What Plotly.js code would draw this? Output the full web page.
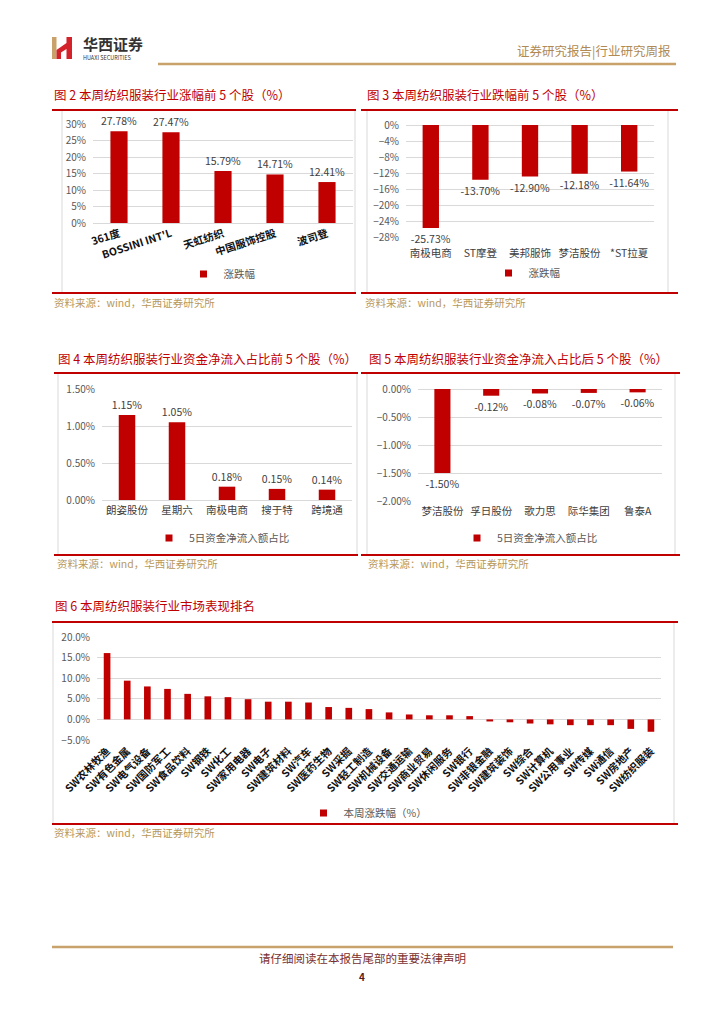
<!DOCTYPE html>
<html>
<head>
<meta charset="utf-8">
<script src="https://cdn.plot.ly/plotly-3.0.1.min.js"></script>
<style>
html,body{margin:0;padding:0;background:#fff;}
#page{width:724px;height:1024px;}
</style>
</head>
<body>
<div id="page"></div>
<script>
// ---------- data ----------
const c2Cats = ['361度', "BOSSINI INT'L", '天虹纺织', '中国服饰控股', '波司登'];
const c2Vals = [27.78, 27.47, 15.79, 14.71, 12.41];

const c3Cats = ['南极电商', 'ST摩登', '美邦服饰', '梦洁股份', '*ST拉夏'];
const c3Vals = [-25.73, -13.70, -12.90, -12.18, -11.64];

const c4Cats = ['朗姿股份', '星期六', '南极电商', '搜于特', '跨境通'];
const c4Vals = [1.15, 1.05, 0.18, 0.15, 0.14];

const c5Cats = ['梦洁股份', '孚日股份', '歌力思', '际华集团', '鲁泰A'];
const c5Vals = [-1.50, -0.12, -0.08, -0.07, -0.06];

const c6Cats = ['SW农林牧渔','SW有色金属','SW电气设备','SW国防军工','SW食品饮料','SW钢铁','SW化工',
  'SW家用电器','SW电子','SW建筑材料','SW汽车','SW医药生物','SW采掘','SW轻工制造','SW机械设备',
  'SW交通运输','SW商业贸易','SW休闲服务','SW银行','SW非银金融','SW建筑装饰','SW综合','SW计算机',
  'SW公用事业','SW传媒','SW通信','SW房地产','SW纺织服装'];
const c6Vals = [16.1, 9.4, 8.0, 7.4, 6.2, 5.6, 5.4, 4.9, 4.3, 4.3, 4.1, 3.0, 2.8, 2.5, 1.7,
  1.2, 1.0, 1.0, 0.8, -0.5, -0.7, -1.0, -1.2, -1.4, -1.4, -1.4, -2.3, -3.0];

const nameRise = '涨跌幅';
const nameFlow = '5日资金净流入额占比';
const nameWeek = '本周涨跌幅（%）';

// ---------- helpers ----------
const W = 724, H = 1024;
const X = x => x / W;
const Y = y => 1 - y / H;
const F = '"Noto Sans CJK SC", "Noto Sans", sans-serif';
const RED = '#C00000';
const GRID = '#D9D9D9';
const GOLD = '#B8985A';

function pct(v, d) { return v.toFixed(d) + '%'; }

function barTrace(cats, vals, xa, ya, name, showText) {
  return {
    type: 'bar', x: cats, y: vals, xaxis: xa, yaxis: ya, name: name,
    marker: {color: RED},
    text: showText ? vals.map(v => pct(v, 2)) : undefined,
    textposition: showText ? 'outside' : 'none',
    constraintext: 'none', cliponaxis: false,
    textfont: {family: F, size: 10.5, color: '#404040'},
    hoverinfo: 'skip', showlegend: false
  };
}
function legTrace(leg, name, xa, ya) {
  return {type: 'scatter', mode: 'markers', x: [null], y: [null], xaxis: xa, yaxis: ya,
    name: name, legend: leg, showlegend: true,
    marker: {symbol: 'square', size: 7, color: RED}, hoverinfo: 'skip'};
}
function yAxis(top, bottom, range, dtick, fmt, anchor) {
  return {domain: [Y(bottom), Y(top)], range: range, dtick: dtick, tick0: 0,
    tickformat: fmt, ticksuffix: '%', showgrid: true, gridcolor: GRID, gridwidth: 1,
    zeroline: true, zerolinecolor: GRID, zerolinewidth: 1, showline: false, ticks: '',
    ticklabelstandoff: 6, tickfont: {family: F, size: 10, color: '#595959'},
    anchor: anchor, fixedrange: true};
}
function xAxis(left, right, anchor, angle, font, standoff) {
  return {domain: [X(left), X(right)], type: 'category', showgrid: false, zeroline: false,
    showline: false, ticks: '', tickangle: angle, anchor: anchor,
    ticklabelstandoff: standoff || 0,
    tickfont: font, fixedrange: true, automargin: false};
}
function ann(x, y, text, size, color, align, extra) {
  return Object.assign({xref: 'paper', yref: 'paper', x: X(x), y: Y(y), text: text,
    showarrow: false, xanchor: align || 'left', yanchor: 'middle',
    font: {family: F, size: size, color: color}}, extra || {});
}
function hline(x0, x1, y, color, w) {
  return {type: 'line', xref: 'paper', yref: 'paper', x0: X(x0), x1: X(x1), y0: Y(y), y1: Y(y),
    line: {color: color, width: w}};
}
function box(x0, x1, y0, y1) {
  return {type: 'rect', xref: 'paper', yref: 'paper', x0: X(x0), x1: X(x1), y0: Y(y1), y1: Y(y0),
    line: {color: GRID, width: 1}, fillcolor: 'rgba(0,0,0,0)'};
}
function legend(cx, cy) {
  return {x: X(cx), y: Y(cy), xanchor: 'center', yanchor: 'middle', orientation: 'h',
    bgcolor: 'rgba(0,0,0,0)', borderwidth: 0, itemwidth: 30,
    font: {family: F, size: 10.5, color: '#595959'}};
}
function pathStr(pts) {
  return 'M' + pts.map(p => X(p[0]).toFixed(5) + ',' + Y(p[1]).toFixed(5)).join(' L') + ' Z';
}

const catFont = {family: F, size: 10.5, color: '#404040'};
const boldFont = {family: F, size: 10.5, color: '#111', weight: 'bold'};

// ---------- traces ----------
const data = [
  barTrace(c2Cats, c2Vals, 'x', 'y', nameRise, true),
  legTrace('legend', nameRise, 'x', 'y'),
  barTrace(c3Cats, c3Vals, 'x2', 'y2', nameRise, true),
  legTrace('legend2', nameRise, 'x2', 'y2'),
  barTrace(c4Cats, c4Vals, 'x3', 'y3', nameFlow, true),
  legTrace('legend3', nameFlow, 'x3', 'y3'),
  barTrace(c5Cats, c5Vals, 'x4', 'y4', nameFlow, true),
  legTrace('legend4', nameFlow, 'x4', 'y4'),
  barTrace(c6Cats, c6Vals, 'x5', 'y5', nameWeek, false),
  legTrace('legend5', nameWeek, 'x5', 'y5')
];

// ---------- layout ----------
const layout = {
  width: W, height: H, margin: {l: 0, r: 0, t: 0, b: 0},
  paper_bgcolor: '#fff', plot_bgcolor: 'rgba(0,0,0,0)',
  bargap: 0.67, hovermode: false,
  font: {family: F},
  xaxis: xAxis(93, 353, 'y', -18, boldFont, 2),
  yaxis: yAxis(124, 223, [0, 30], 5, 'd', 'x'),
  xaxis2: xAxis(406, 654, 'y2', 0, catFont, 8),
  yaxis2: yAxis(125, 237, [-28, 0], 4, 'd', 'x2'),
  xaxis3: xAxis(102, 352, 'y3', 0, catFont, 2),
  yaxis3: yAxis(389, 500, [0, 1.5], 0.5, '.2f', 'x3'),
  xaxis4: xAxis(418, 662, 'y4', 0, catFont, 2),
  yaxis4: yAxis(389, 501, [-2, 0], 0.5, '.2f', 'x4'),
  xaxis5: xAxis(97, 661, 'y5', -45, {family: F, size: 10.5, color: '#111', weight: 'bold'}, 2),
  yaxis5: yAxis(637, 740, [-5, 20], 5, '.1f', 'x5'),
  legend: legend(222, 274),
  legend2: legend(527, 273),
  legend3: legend(222, 538),
  legend4: legend(530, 538),
  legend5: legend(368, 813),
  shapes: [
    // header
    hline(158, 676, 64, '#C9A26B', 2.5),
    {type: 'rect', xref: 'paper', yref: 'paper', x0: X(52), x1: X(56.5), y0: Y(59), y1: Y(37),
      line: {width: 0}, fillcolor: '#C9A26B'},
    {type: 'path', xref: 'paper', yref: 'paper', line: {width: 0}, fillcolor: '#D3222A',
      path: pathStr([[56.5,59],[56.5,50],[66.5,43],[66.5,37],[72,37],[72,59],[66.5,59],[66.5,49],[61,52.5],[61,59]])},
    // chart boxes
    box(62, 355, 110, 293),
    box(367, 668, 110, 293),
    box(58, 357, 373, 555),
    box(367, 675, 373, 555),
    box(53, 674, 622, 824),
    // red rules
    hline(52, 356, 110, RED, 2), hline(52, 356, 293, RED, 2),
    hline(361, 678, 110, RED, 2), hline(361, 678, 293, RED, 2),
    hline(54, 358, 373, RED, 2), hline(54, 358, 555, RED, 2),
    hline(361, 680, 373, RED, 2), hline(361, 680, 555, RED, 2),
    hline(52, 678, 622, RED, 2), hline(52, 678, 824, RED, 2),
    // footer
    hline(52, 673, 947, '#C9A26B', 2.5)
  ],
  annotations: [
    ann(81, 43.5, '<b>华西证券</b>', 15, '#333333'),
    ann(81, 58, 'HUAXI SECURITIES', 5.5, '#333333'),
    ann(673, 50, '证券研究报告|行业研究周报', 12.5, '#B08A52', 'right'),
    ann(52, 94, '图 2 本周纺织服装行业涨幅前 5 个股（%）', 12.5, RED),
    ann(365, 94, '图 3 本周纺织服装行业跌幅前 5 个股（%）', 12.5, RED),
    ann(56, 358, '图 4 本周纺织服装行业资金净流入占比前 5 个股（%）', 12.5, RED),
    ann(367, 358, '图 5 本周纺织服装行业资金净流入占比后 5 个股（%）', 12.5, RED),
    ann(53, 605, '图 6 本周纺织服装行业市场表现排名', 12.5, RED),
    ann(52, 302, '资料来源：wind，华西证券研究所', 10.5, GOLD),
    ann(363, 302, '资料来源：wind，华西证券研究所', 10.5, GOLD),
    ann(55, 563, '资料来源：wind，华西证券研究所', 10.5, GOLD),
    ann(366, 563, '资料来源：wind，华西证券研究所', 10.5, GOLD),
    ann(52, 832, '资料来源：wind，华西证券研究所', 10.5, GOLD),
    ann(362, 958, '请仔细阅读在本报告尾部的重要法律声明', 11.5, '#7A2E2E', 'center'),
    ann(362, 976, '<b>4</b>', 10, '#5A1A1A', 'center')
  ]
};

Plotly.newPlot('page', data, layout, {staticPlot: true, displayModeBar: false});
</script>
</body>
</html>
